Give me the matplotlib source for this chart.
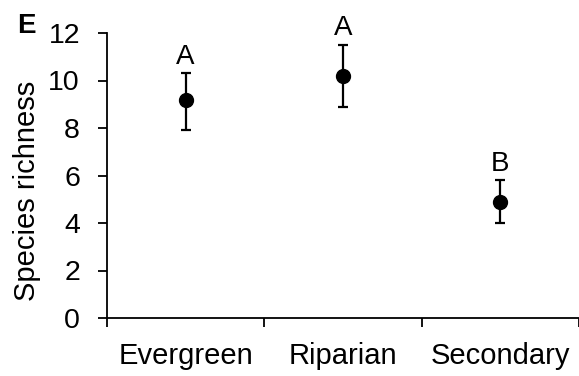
import matplotlib
matplotlib.use("Agg")
import matplotlib.pyplot as plt

# data
habitats = ["Evergreen", "Riparian", "Secondary"]
richness = [9.2, 10.2, 4.9]
lower = [7.9, 8.9, 4.0]
upper = [10.3, 11.5, 5.8]
letters = ["A", "A", "B"]

plt.rcParams["font.family"] = ["Liberation Sans", "DejaVu Sans"]

W, H = 579, 376
fig = plt.figure(figsize=(W / 100, H / 100), dpi=100)
ax = fig.add_axes([107 / W, 58 / H, 472 / W, 285 / H])

xs = [i + 0.5 for i in range(len(habitats))]
yerr = [[m - lo for m, lo in zip(richness, lower)],
        [hi - m for m, hi in zip(richness, upper)]]
ax.errorbar(xs, richness, yerr=yerr, fmt="o", color="black", ms=10,
            elinewidth=1.6, capsize=3.4, capthick=1.6)

for x, hi, lab in zip(xs, upper, letters):
    ax.annotate(lab, (x, hi), xytext=(0, 7), textcoords="offset points",
                ha="center", va="baseline", fontsize=20)

ax.set_xlim(0, 472 / 158)
ax.set_ylim(0, 12)
ax.set_yticks(range(0, 13, 2))
ax.set_xticks([0, 1, 2, 3])
ax.set_xticklabels([])
ax.set_xticks(xs, minor=True)
ax.set_xticklabels(habitats, minor=True, fontsize=21)
ax.tick_params(axis="x", which="minor", length=0, pad=17)
ax.tick_params(axis="x", which="major", length=6.5, width=1.3, direction="out")
ax.tick_params(axis="y", length=6.5, width=1.3, direction="out", pad=13, labelsize=20.5)

for s in ["top", "right"]:
    ax.spines[s].set_visible(False)
for s in ["left", "bottom"]:
    ax.spines[s].set_linewidth(1.3)

ax.set_ylabel("Species richness", fontsize=21, labelpad=5)
ax.yaxis.label.set_y(0.445)

fig.text(17 / W, 1 - 33 / H, "E", fontsize=20, fontweight="bold", ha="left", va="baseline")

fig.savefig("out.png", dpi=100)
